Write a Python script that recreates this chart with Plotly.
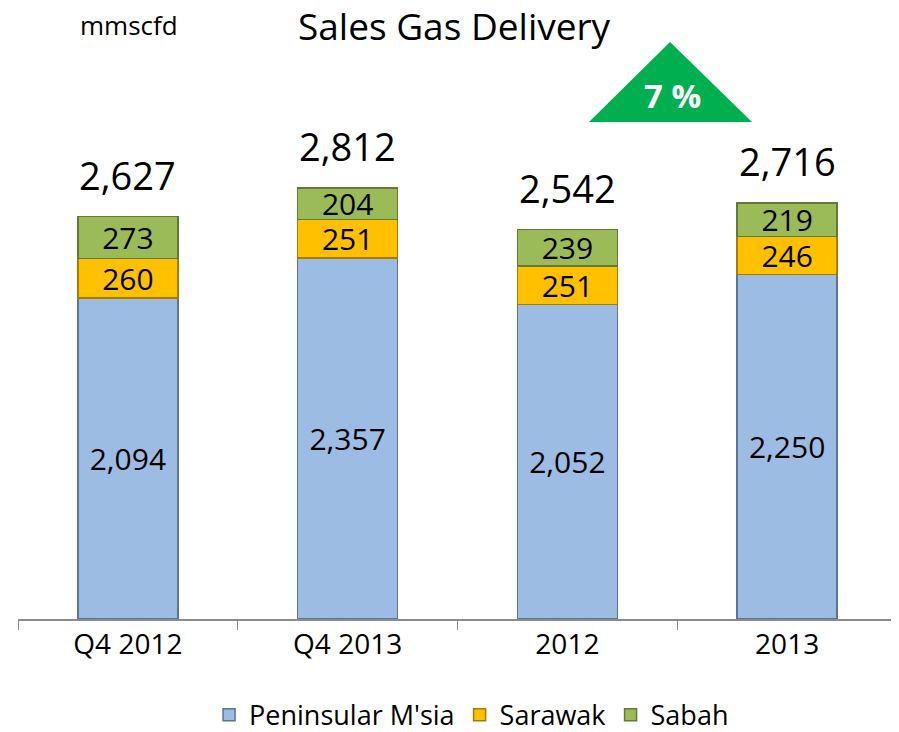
import plotly.graph_objects as go

categories = ["Q4 2012", "Q4 2013", "2012", "2013"]
peninsular = [2094, 2357, 2052, 2250]
sarawak = [260, 251, 251, 246]
sabah = [273, 204, 239, 219]
totals = [2627, 2812, 2542, 2716]
growth_label = "7 %"

FONT = "Open Sans"

fig = go.Figure()
series = [
    ("Peninsular M'sia", peninsular, "#9DBCE3", "#5A7396"),
    ("Sarawak", sarawak, "#FFC000", "#A67C00"),
    ("Sabah", sabah, "#9BBB59", "#627A34"),
]
for name, vals, fill, edge in series:
    fig.add_trace(go.Bar(
        name=name, x=categories, y=vals,
        marker=dict(color=fill, line=dict(color=edge, width=1.5)),
        text=[f"{v:,}" for v in vals],
        textposition="inside", insidetextanchor="middle",
        textangle=0, constraintext="none",
        textfont=dict(family=FONT, size=30, color="#000000"),
    ))

# totals above each stack (index positions, category axis)
for i, tot in enumerate(totals):
    fig.add_annotation(x=i, y=tot, text=f"{tot:,}", showarrow=False,
                       xanchor="center", yanchor="middle",
                       yshift=42, font=dict(family=FONT, size=38, color="#000000"))

# header texts and the growth badge, in paper coordinates
fig.add_annotation(xref="paper", yref="paper", x=0.126, y=1.063, text="mmscfd",
                   xanchor="center", yanchor="middle", showarrow=False,
                   font=dict(family=FONT, size=26, color="#000000"))
fig.add_annotation(xref="paper", yref="paper", x=0.497, y=1.0626, text="Sales Gas Delivery",
                   xanchor="center", yanchor="middle", showarrow=False,
                   font=dict(family=FONT, size=37, color="#000000"))
fig.add_shape(type="path", xref="paper", yref="paper",
              path="M 0.6496 0.889 L 0.7418 1.032 L 0.8350 0.889 Z",
              fillcolor="#00B050", line=dict(width=0))
fig.add_annotation(xref="paper", yref="paper", x=0.745, y=0.937, text=f"<b>{growth_label}</b>",
                   xanchor="center", yanchor="middle", showarrow=False,
                   font=dict(family=FONT, size=33, color="#FFFFFF"))

fig.update_layout(
    barmode="stack", bargap=0.545,
    width=899, height=732,
    margin=dict(l=10, r=10, t=52, b=121, autoexpand=False),
    paper_bgcolor="white", plot_bgcolor="white",
    showlegend=True,
    legend=dict(orientation="h", x=0.516, xanchor="center", y=-0.172, yanchor="middle",
                traceorder="normal", font=dict(family=FONT, size=27, color="#000000"),
                itemwidth=30),
)
fig.update_xaxes(type="category", range=[-0.5, 3.5], showline=True,
                 linecolor="#8C8C8C", linewidth=1.5,
                 ticks="outside", tickson="boundaries", ticklen=9, tickcolor="#8C8C8C",
                 tickangle=0, automargin=False,
                 tickfont=dict(family=FONT, size=28, color="#000000"))
fig.update_yaxes(range=[0, 3649], visible=False, showgrid=False)

fig.write_html("out.html")
